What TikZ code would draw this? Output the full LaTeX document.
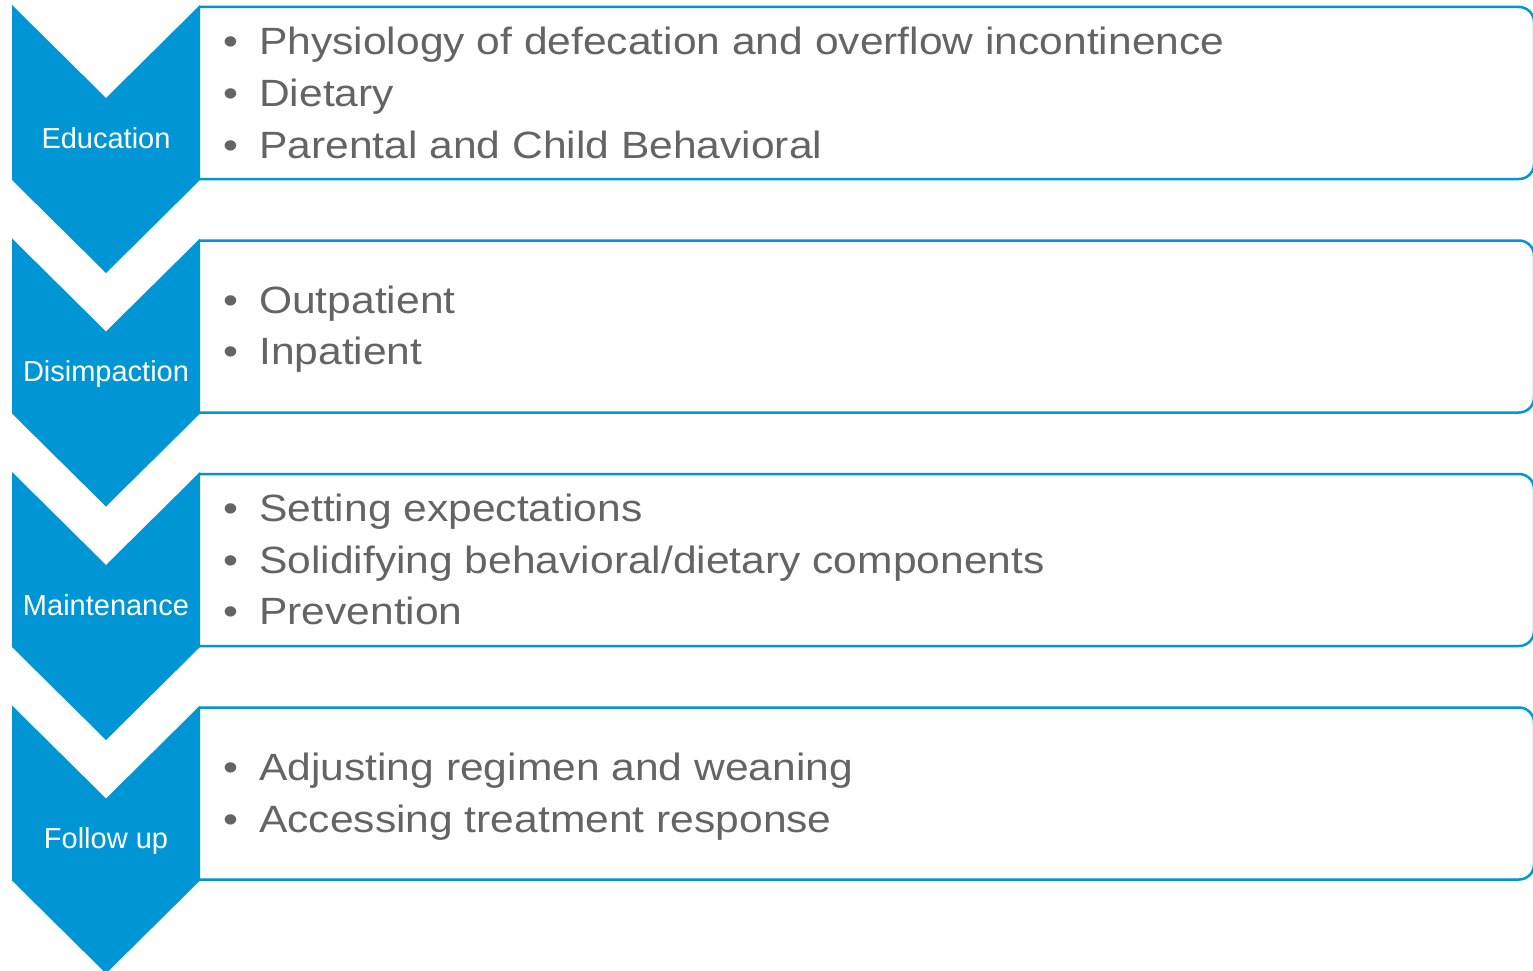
\documentclass[tikz,border=0pt]{standalone}
\usepackage{fontspec}
\setmainfont{Liberation Sans}
\newfontfamily\itemfont[FakeStretch=1.12]{Liberation Sans}
\begin{document}
\begin{tikzpicture}[x=1pt,y=-1pt,
  stage/.style={fill=stageblue,draw=none},
  panel/.style={draw=stageblue,line width=2.5pt,rounded corners=15pt},
  label/.style={text=white,inner sep=0pt,anchor=base,font=\fontsize{29}{29}\selectfont},
  item/.style={text=itemgray,inner sep=0pt,anchor=base west,font=\itemfont\fontsize{38}{38}\selectfont}
]
\definecolor{stageblue}{RGB}{0,150,214}
\definecolor{itemgray}{RGB}{100,100,100}
\newcommand{\bul}{\llap{•\hspace{21pt}}}
\useasboundingbox (0,0) rectangle (1533,971);

% four stages, pitch 233.5
\foreach \t/\n in {5/s1,238.5/s2,472/s3,705.5/s4}{
  \fill[stage] (12,\t) -- (106,\t+93) -- (200,\t) -- (200,\t+175)
     -- (106,\t+268) -- (12,\t+175) -- cycle;
  \draw[panel] (200,\t+2) -- (1534,\t+2) -- (1534,\t+174) -- (200,\t+174);
}

\node[label] (l1) at (106,148) {Education};
\node[label] (l2) at (106,381.5) {Disimpaction};
\node[label] (l3) at (106,615) {Maintenance};
\node[label] (l4) at (106,848.5) {Follow up};

\node[item] (a1) at (259,55) {\bul Physiology of defecation and overflow incontinence};
\node[item] (a2) at (259,106.5) {\bul Dietary};
\node[item] (a3) at (259,158) {\bul Parental and Child Behavioral};

\node[item] (b1) at (259,313) {\bul Outpatient};
\node[item] (b2) at (259,364.5) {\bul Inpatient};

\node[item] (c1) at (259,521.5) {\bul Setting expectations};
\node[item] (c2) at (259,573) {\bul Solidifying behavioral/dietary components};
\node[item] (c3) at (259,624.5) {\bul Prevention};

\node[item] (d1) at (259,780.5) {\bul Adjusting regimen and weaning};
\node[item] (d2) at (259,832) {\bul Accessing treatment response};
\end{tikzpicture}
\end{document}
